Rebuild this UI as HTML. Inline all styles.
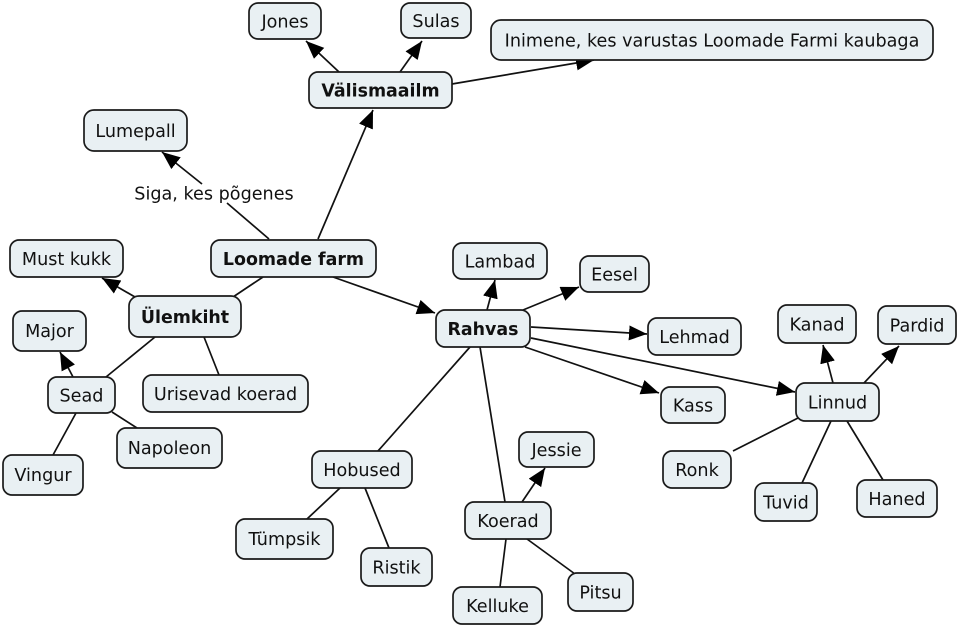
<!DOCTYPE html>
<html><head><meta charset="utf-8"><style>
html,body{margin:0;padding:0;background:#fff;}
svg{display:block;}
text{font-family:"DejaVu Sans","Liberation Sans",sans-serif;font-size:17.6px;fill:#111;}
.b{font-weight:bold;font-size:17.4px;}
rect{fill:#e9f0f3;stroke:#1a1a1a;stroke-width:1.7;}
line{stroke:#111;stroke-width:1.7;}
</style></head><body>
<svg width="960" height="626" viewBox="0 0 960 626" xmlns="http://www.w3.org/2000/svg">
<defs>
<marker id="a" markerUnits="userSpaceOnUse" markerWidth="20" markerHeight="16" refX="18" refY="7.5" orient="auto">
<path d="M0,0 L18,7.5 L0,15 z" fill="#000"/>
</marker>
</defs>
<!-- connectors -->
<line x1="339" y1="72" x2="306" y2="41" marker-end="url(#a)"/>
<line x1="400" y1="72" x2="422" y2="41" marker-end="url(#a)"/>
<line x1="452" y1="84" x2="594" y2="60" marker-end="url(#a)"/>
<line x1="318" y1="239" x2="373" y2="110" marker-end="url(#a)"/>
<line x1="269" y1="239" x2="227" y2="203"/>
<line x1="202" y1="184" x2="162" y2="152" marker-end="url(#a)"/>
<line x1="333" y1="277" x2="435" y2="313" marker-end="url(#a)"/>
<line x1="263" y1="277" x2="233" y2="297"/>
<line x1="135" y1="297" x2="102" y2="278" marker-end="url(#a)"/>
<line x1="155" y1="337" x2="106" y2="377"/>
<line x1="204" y1="337" x2="219" y2="375"/>
<line x1="73" y1="377" x2="60" y2="352" marker-end="url(#a)"/>
<line x1="112" y1="412" x2="137" y2="428"/>
<line x1="76" y1="413" x2="53" y2="455"/>
<line x1="487" y1="310" x2="495" y2="280" marker-end="url(#a)"/>
<line x1="523" y1="310" x2="579" y2="287" marker-end="url(#a)"/>
<line x1="531" y1="327" x2="647" y2="334" marker-end="url(#a)"/>
<line x1="525" y1="347" x2="659" y2="393" marker-end="url(#a)"/>
<line x1="531" y1="338" x2="795" y2="392" marker-end="url(#a)"/>
<line x1="470" y1="347" x2="378" y2="451"/>
<line x1="480" y1="347" x2="505" y2="502"/>
<line x1="833" y1="383" x2="823" y2="345" marker-end="url(#a)"/>
<line x1="864" y1="383" x2="899" y2="346" marker-end="url(#a)"/>
<line x1="798" y1="418" x2="733" y2="451"/>
<line x1="831" y1="421" x2="802" y2="483"/>
<line x1="847" y1="421" x2="883" y2="480"/>
<line x1="340" y1="488" x2="307" y2="519"/>
<line x1="365" y1="488" x2="389" y2="548"/>
<line x1="522" y1="502" x2="545" y2="468" marker-end="url(#a)"/>
<line x1="506" y1="539" x2="500" y2="587"/>
<line x1="527" y1="539" x2="575" y2="574"/>
<!-- nodes -->
<rect x="249" y="3" width="72" height="36" rx="9"/><text x="285" y="27.5" text-anchor="middle">Jones</text>
<rect x="401" y="3" width="70" height="35" rx="9"/><text x="436" y="27" text-anchor="middle">Sulas</text>
<rect x="491" y="20" width="442" height="40" rx="10"/><text x="712" y="46.5" text-anchor="middle">Inimene, kes varustas Loomade Farmi kaubaga</text>
<rect x="309" y="72" width="143" height="36" rx="9"/><text class="b" x="380.5" y="96.5" text-anchor="middle">Välismaailm</text>
<rect x="84" y="110" width="103" height="41" rx="10"/><text x="135.5" y="137" text-anchor="middle">Lumepall</text>
<text x="214" y="199.5" text-anchor="middle">Siga, kes põgenes</text>
<rect x="211" y="240" width="165" height="37" rx="9"/><text class="b" x="293.5" y="265" text-anchor="middle">Loomade farm</text>
<rect x="10" y="240" width="113" height="37" rx="9"/><text x="66.5" y="265" text-anchor="middle">Must kukk</text>
<rect x="129" y="296" width="112" height="41" rx="10"/><text class="b" x="185" y="323" text-anchor="middle">Ülemkiht</text>
<rect x="13" y="311" width="73" height="40" rx="9"/><text x="49.5" y="337" text-anchor="middle">Major</text>
<rect x="48" y="377" width="67" height="36" rx="9"/><text x="81.5" y="401.5" text-anchor="middle">Sead</text>
<rect x="143" y="375" width="165" height="37" rx="9"/><text x="225.5" y="400" text-anchor="middle">Urisevad koerad</text>
<rect x="117" y="428" width="105" height="40" rx="9"/><text x="169.5" y="454" text-anchor="middle">Napoleon</text>
<rect x="3" y="455" width="80" height="40" rx="9"/><text x="43" y="481" text-anchor="middle">Vingur</text>
<rect x="453" y="243" width="94" height="36" rx="9"/><text x="500" y="267.5" text-anchor="middle">Lambad</text>
<rect x="580" y="256" width="69" height="36" rx="9"/><text x="614.5" y="280.5" text-anchor="middle">Eesel</text>
<rect x="436" y="310" width="94" height="37" rx="9"/><text class="b" x="483" y="335" text-anchor="middle">Rahvas</text>
<rect x="648" y="318" width="93" height="37" rx="9"/><text x="694.5" y="343" text-anchor="middle">Lehmad</text>
<rect x="661" y="387" width="64" height="36" rx="9"/><text x="693" y="411.5" text-anchor="middle">Kass</text>
<rect x="778" y="305" width="78" height="38" rx="9"/><text x="817" y="330.5" text-anchor="middle">Kanad</text>
<rect x="878" y="306" width="78" height="38" rx="9"/><text x="917" y="331.5" text-anchor="middle">Pardid</text>
<rect x="796" y="383" width="83" height="38" rx="9"/><text x="837.5" y="408.5" text-anchor="middle">Linnud</text>
<rect x="663" y="451" width="68" height="37" rx="9"/><text x="697" y="476" text-anchor="middle">Ronk</text>
<rect x="755" y="483" width="62" height="38" rx="9"/><text x="786" y="508.5" text-anchor="middle">Tuvid</text>
<rect x="857" y="480" width="80" height="37" rx="9"/><text x="897" y="505" text-anchor="middle">Haned</text>
<rect x="312" y="451" width="100" height="37" rx="9"/><text x="362" y="476" text-anchor="middle">Hobused</text>
<rect x="236" y="519" width="97" height="40" rx="9"/><text x="284.5" y="545" text-anchor="middle">Tümpsik</text>
<rect x="361" y="548" width="71" height="38" rx="9"/><text x="396.5" y="573.5" text-anchor="middle">Ristik</text>
<rect x="519" y="432" width="75" height="35" rx="9"/><text x="556.5" y="456" text-anchor="middle">Jessie</text>
<rect x="465" y="502" width="86" height="37" rx="9"/><text x="508" y="527" text-anchor="middle">Koerad</text>
<rect x="453" y="587" width="89" height="37" rx="9"/><text x="497.5" y="612" text-anchor="middle">Kelluke</text>
<rect x="568" y="573" width="65" height="38" rx="9"/><text x="600.5" y="598.5" text-anchor="middle">Pitsu</text>
</svg>
</body></html>
